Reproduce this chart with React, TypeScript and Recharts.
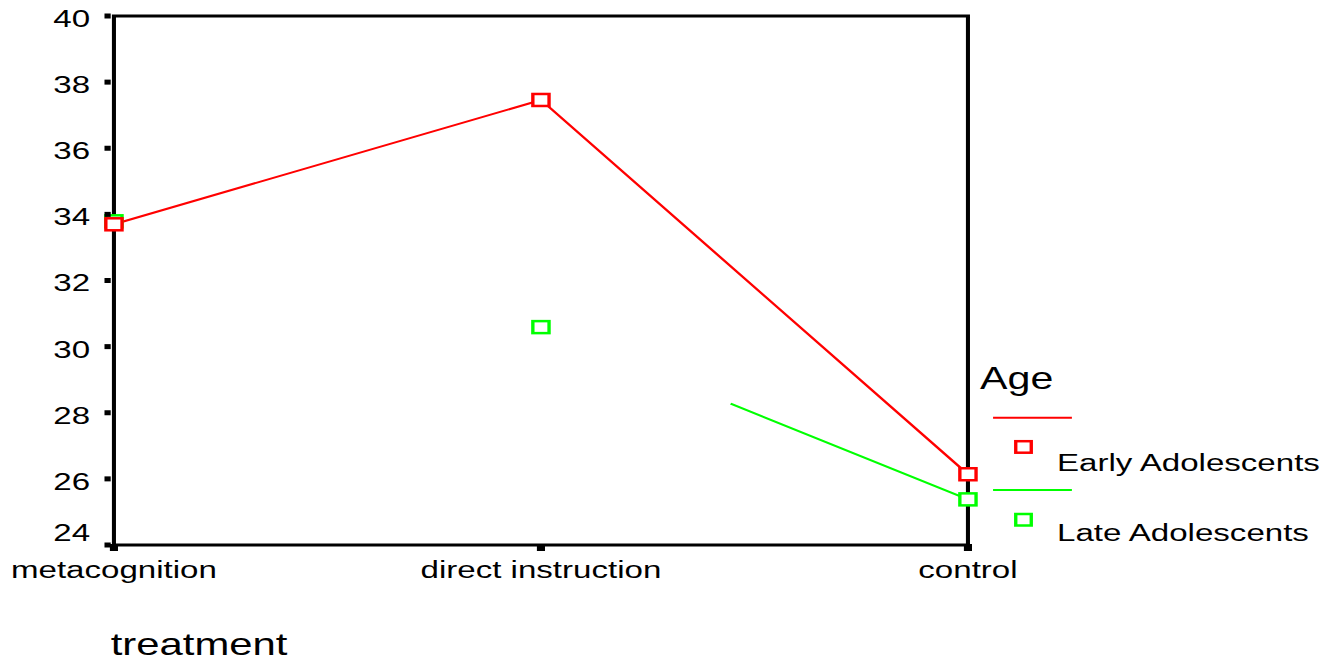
import React from 'react';
import { LineChart, Line, XAxis, YAxis, ReferenceArea, Customized } from 'recharts';

const categories = ['metacognition', 'direct instruction', 'control'];
const earlyAdolescents = [33.7, 37.46, 26.14];
const lateAdolescents = [33.79, 30.59, 25.38];
const yTicks = [24, 26, 28, 30, 32, 34, 36, 38, 40];
const seriesNames = ['Early Adolescents', 'Late Adolescents'];
const legendTitle = 'Age';
const xAxisTitle = 'treatment';

const RED = '#ff0000';
const GREEN = '#00ff00';
const FONT = '"Liberation Sans", Arial, Helvetica, sans-serif';
const STRETCH = 1.35;

const data = categories.map((c, i) => ({
  category: c,
  early: earlyAdolescents[i],
  late: lateAdolescents[i],
  lateLine: i === 0 ? null : lateAdolescents[i],
}));

const squareDot = (color: string) => (props: any) => {
  const { cx, cy, index } = props;
  if (cx == null || cy == null) return <g key={`d-${index}`} />;
  return (
    <rect
      key={`d-${index}`}
      x={cx - 6}
      y={cy - 6}
      width={12}
      height={12}
      fill="#ffffff"
      stroke={color}
      strokeWidth={2.5}
    />
  );
};

const YTick = (props: any) => {
  const { x, y, payload } = props;
  const isMin = payload.value === yTicks[0];
  return (
    <g>
      <rect x={x - 7} y={y - 2.5} width={4.6} height={5} fill="#000" />
      <text
        x={x - 17.7}
        y={isMin ? y - 3.5 : y + 11}
        textAnchor="end"
        fontSize={24.5}
        fontFamily={FONT}
        fill="#000"
      >
        {payload.value}
      </text>
    </g>
  );
};

const XTick = (props: any) => {
  const { x, y, payload } = props;
  return (
    <g>
      <rect x={x - 3} y={y - 1} width={6} height={7} fill="#000" />
      <text x={x} y={y + 33.5} textAnchor="middle" fontSize={24.5} fontFamily={FONT} fill="#000">
        {payload.value}
      </text>
    </g>
  );
};

const LegendBlock = () => (
  <g fontFamily={FONT} fill="#000">
    <text x={82} y={655} fontSize={31}>{xAxisTitle}</text>
    <text x={726} y={389} fontSize={30.5}>{legendTitle}</text>
    <line x1={735.6} x2={794} y1={417.7} y2={417.7} stroke={RED} strokeWidth={2} />
    <rect x={752.4} y={441.2} width={11.5} height={11.5} fill="#fff" stroke={RED} strokeWidth={2.5} />
    <text x={783} y={470.7} fontSize={24.5}>{seriesNames[0]}</text>
    <line x1={735.6} x2={794} y1={490} y2={490} stroke={GREEN} strokeWidth={2} />
    <rect x={752.4} y={514} width={11.5} height={11.5} fill="#fff" stroke={GREEN} strokeWidth={2.5} />
    <text x={783} y={540.7} fontSize={24.5}>{seriesNames[1]}</text>
  </g>
);

export default function App() {
  return (
    <div
      style={{
        position: 'absolute',
        left: 0,
        top: 0,
        width: 990,
        height: 662,
        transform: `scaleX(${STRETCH})`,
        transformOrigin: '0 0',
        background: '#fff',
      }}
    >
      <LineChart width={990} height={662} data={data} margin={{ top: 16, right: 273, bottom: 77, left: 0 }}>
        <XAxis
          dataKey="category"
          height={40}
          axisLine={false}
          tickLine={false}
          tickSize={0}
          tickMargin={0}
          tick={<XTick />}
          interval={0}
        />
        <YAxis
          width={84.4}
          domain={[24, 40]}
          ticks={yTicks}
          axisLine={false}
          tickLine={false}
          tickSize={0}
          tickMargin={0}
          tick={<YTick />}
          interval={0}
        />
        <ReferenceArea
          x1={categories[0]}
          x2={categories[categories.length - 1]}
          y1={24}
          y2={40}
          fill="none"
          stroke="#000"
          strokeWidth={3}
          ifOverflow="visible"
        />
        <Line
          dataKey="lateLine"
          stroke={GREEN}
          strokeWidth={2}
          strokeDasharray="0 160 400"
          dot={false}
          activeDot={false}
          isAnimationActive={false}
          connectNulls={false}
        />
        <Line
          dataKey="late"
          stroke="none"
          dot={squareDot(GREEN)}
          activeDot={false}
          isAnimationActive={false}
        />
        <Line
          dataKey="early"
          stroke={RED}
          strokeWidth={2}
          dot={squareDot(RED)}
          activeDot={false}
          isAnimationActive={false}
        />
        <Customized component={LegendBlock} />
      </LineChart>
    </div>
  );
}
